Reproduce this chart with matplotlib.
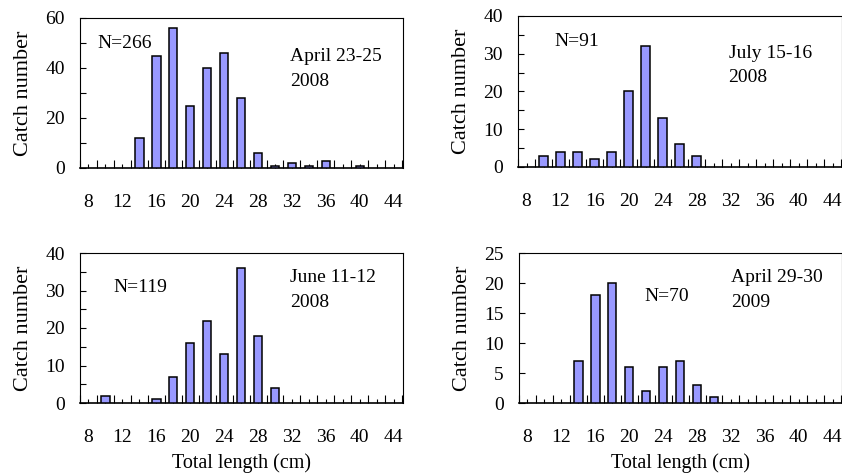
import matplotlib
matplotlib.use('Agg')
import matplotlib.pyplot as plt
import numpy as np

plt.rcParams['font.family'] = ['Liberation Serif', 'DejaVu Serif']
plt.rcParams['font.size'] = 14

# Catch per 2-cm length class
len_a = [14, 16, 18, 20, 22, 24, 26, 28, 30, 32, 34, 36, 40]
cnt_a = [12, 45, 56, 25, 40, 46, 28, 6, 1, 2, 1, 3, 1]

len_b = [10, 12, 14, 16, 18, 20, 22, 24, 26, 28]
cnt_b = [3, 4, 4, 2, 4, 20, 32, 13, 6, 3]

len_c = [10, 16, 18, 20, 22, 24, 26, 28, 30]
cnt_c = [2, 1, 7, 16, 22, 13, 36, 18, 4]

len_d = [14, 16, 18, 20, 22, 24, 26, 28, 30]
cnt_d = [7, 18, 20, 6, 2, 6, 7, 3, 1]

n_labels = ['N=266', 'N=91', 'N=119', 'N=70']
dates = ['April 23-25\n2008', 'July 15-16\n2008', 'June 11-12\n2008', 'April 29-30\n2009']
ylims = [(60, 20, 10), (40, 10, 5), (40, 10, 5), (25, 5, None)]
xticks = list(range(8, 45, 4))

fig = plt.figure(figsize=(8.42, 4.75), dpi=100)
W, H = 842.0, 475.0
boxes = [(80, 18, 403, 168), (518, 16, 842, 167), (80, 253, 403, 403), (519, 253, 842, 403)]
npos = [(0.053, 0.83), (0.111, 0.83), (0.102, 0.767), (0.387, 0.707)]
dpos = [(0.65, 0.80), (0.65, 0.81), (0.65, 0.89), (0.656, 0.89)]

data = [(len_a, cnt_a), (len_b, cnt_b), (len_c, cnt_c), (len_d, cnt_d)]

for i, ((x, y), (l, t, r, b)) in enumerate(zip(data, boxes)):
    ax = fig.add_axes([l / W, 1 - b / H, (r - l) / W, (b - t) / H])
    ax.bar(x, y, width=1.0, color='#9999ff', edgecolor='black', linewidth=1.1, zorder=3)
    ax.set_xlim(7, 45.1)
    ymax, ystep, yminor = ylims[i]
    ax.set_ylim(0, ymax)
    ax.set_yticks(np.arange(0, ymax + 1, ystep))
    if yminor:
        ax.set_yticks(np.arange(0, ymax + 1, yminor), minor=True)
    ax.set_xticks(range(8, 45, 2))
    ax.set_xticklabels([str(v) if v in xticks else '' for v in range(8, 45, 2)])
    ax.set_xticks(range(7, 46, 2), minor=True)
    ax.tick_params(axis='x', which='major', direction='in', length=3, width=0.8, pad=19)
    ax.tick_params(axis='x', which='minor', direction='in', length=5.5, width=0.8)
    ax.tick_params(axis='y', which='both', direction='in', length=4, width=0.8, pad=11)
    ax.set_ylabel('Catch number', fontsize=16, labelpad=9)
    for s in ax.spines.values():
        s.set_linewidth(0.8)
    ax.spines['bottom'].set_linewidth(1.2)
    ax.text(npos[i][0], npos[i][1], n_labels[i], transform=ax.transAxes, va='center', ha='left')
    ax.text(dpos[i][0], dpos[i][1], dates[i], transform=ax.transAxes, va='top', ha='left',
            linespacing=1.6)
    if i >= 2:
        ax.set_xlabel('Total length (cm)', fontsize=14.5, labelpad=5)

fig.savefig('out.png', dpi=100)
